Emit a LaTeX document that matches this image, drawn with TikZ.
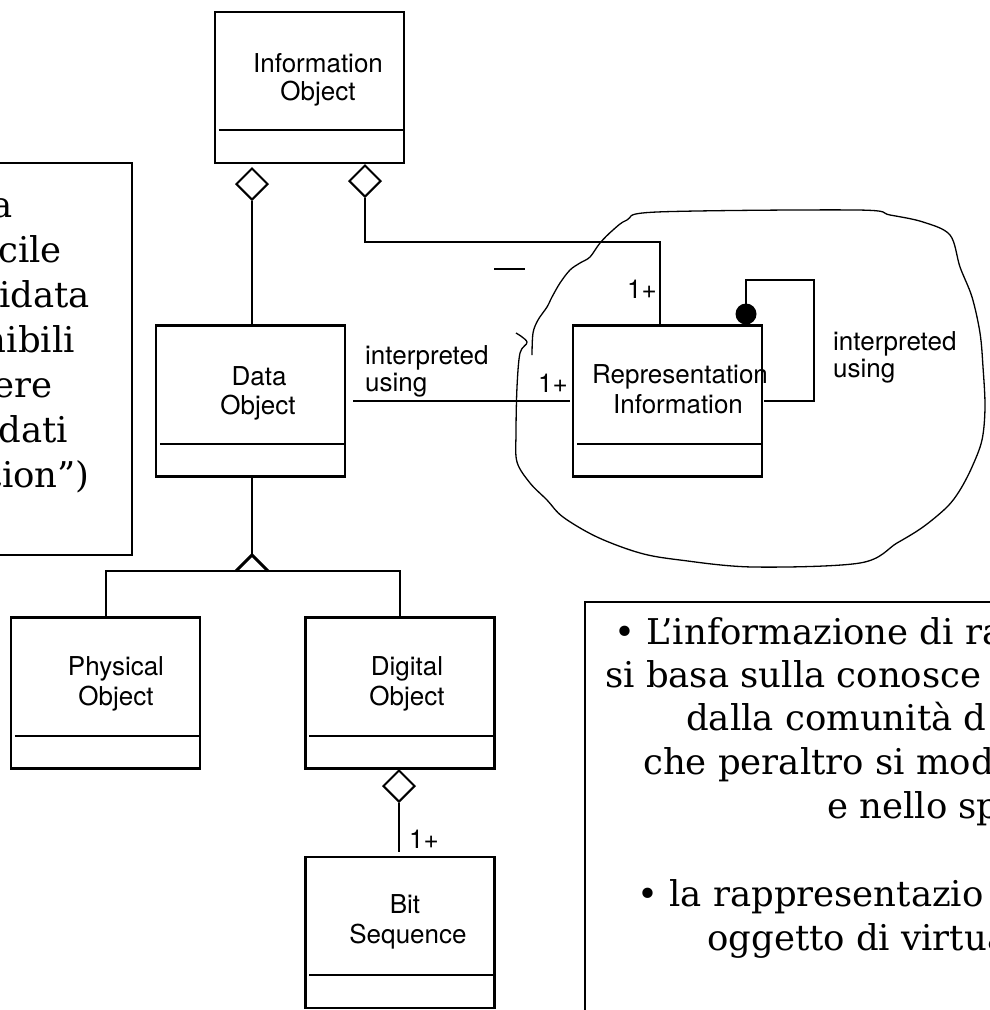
\documentclass[tikz,border=0pt]{standalone}
\usepackage{fontspec}
\newfontfamily\umlfont{TeX Gyre Heros}
\newfontfamily\bkfont{DejaVu Serif}
\usetikzlibrary{shapes.geometric}
\begin{document}
\begin{tikzpicture}[x=1pt,y=-1pt,
  umlbox/.style={draw, line width=2.2pt, minimum width=189pt, minimum height=151pt, inner sep=0pt},
  lbl/.style={font=\umlfont\fontsize{26}{29}\selectfont, anchor=base, inner sep=0pt},
  lblw/.style={lbl, anchor=base west},
  agg/.style={draw, diamond, line width=2pt, minimum width=32pt, minimum height=32pt, inner sep=0pt, fill=white},
  conn/.style={line width=2pt},
  sep/.style={line width=2pt},
  serif/.style={font=\bkfont\fontsize{35.5}{44}\selectfont, inner sep=0pt},
  serife/.style={serif, anchor=base east},
  serifw/.style={serif, anchor=base west},
]
\useasboundingbox (0,0) rectangle (990,1010);
\fill[white] (0,0) rectangle (990,1010);

% hand-drawn cloud
\draw[line width=1.3pt, line join=round] plot[smooth, tension=0.55] coordinates {
 (516,333) (527,342) (520,353) (517,387) (516,433) (517,462) (530,483) (547,500)
 (563,517) (597,537) (640,553) (680,560) (753,567) (860,563) (897,543) (923,527)
 (947,507) (960,490) (972,467) (982,440) (985,407) (983,367) (980,333) (972,297)
 (960,267) (950,235) (923,222) (890,215) (857,210) (657,212) (627,220) (613,230)
 (600,243) (590,257) (580,263) (570,270) (560,283) (552,297) (547,307) (538,320)
 (533,333) (532,355)};

% text boxes
\draw[line width=1.5pt] (-5,163) rectangle (132,555);
\draw[line width=1.5pt] (585,602) rectangle (1000,1020);

% class boxes
\node[umlbox] (info) at (309.5,87.5) {};
\node[umlbox] (data) at (250.5,401) {};
\node[umlbox] (rep)  at (667.5,401) {};
\node[umlbox] (phys) at (105.5,693) {};
\node[umlbox] (dig)  at (400,693) {};
\node[umlbox] (bit)  at (400,932.5) {};
\foreach \b in {info,data,rep,phys,dig,bit}{
  \draw[sep] ([xshift=5pt,yshift=34pt]\b.south west) -- ([yshift=34pt]\b.south east);
}

% class names
\node[lbl] (infoA) at (318,72) {Information};
\node[lbl] (infoB) at (318,100) {Object};
\node[lbl] (dataA) at (259,385) {Data};
\node[lbl] (dataB) at (258,414) {Object};
\node[lbl] (repA) at (680,383) {Representation};
\node[lbl] (repB) at (678,413) {Information};
\node[lbl] (physA) at (116,675) {Physical};
\node[lbl] (physB) at (116,705) {Object};
\node[lbl] (digA) at (407,675) {Digital};
\node[lbl] (digB) at (407,705) {Object};
\node[lbl] (bitA) at (405,913) {Bit};
\node[lbl] (bitB) at (408,943) {Sequence};

% aggregation Information -> Data
\node[agg] (d1) at (252,184) {};
\draw[conn] (d1.south) -- (d1.south |- data.north);
% aggregation Information -> Representation
\node[agg] (d2) at (365,181) {};
\coordinate (c1) at (660,242);
\draw[conn] (d2.south) -- (d2.south |- c1) -- (c1) -- (c1 |- rep.north);
\node[lblw] (m1) at (627,298) {1+};
\draw[line width=2pt] (494,269) -- (525,269);

% Data -> Representation
\draw[conn] ([xshift=7pt]data.east) -- ([xshift=-2pt]rep.west);
\node[lblw] (l1a) at (365,364) {interpreted};
\node[lblw] (l1b) at (365,391) {using};
\node[lblw] (m2) at (538,392) {1+};

% self loop
\node[circle, fill, inner sep=0pt, minimum size=21pt] (dot) at (746,314) {};
\coordinate (c2) at (814,280);
\draw[conn] (dot.center) |- (c2) |- ([xshift=1pt]rep.east);
\node[lblw] (l2a) at (833,350) {interpreted};
\node[lblw] (l2b) at (833,377) {using};

% generalization
\coordinate (tri) at (252,555);
\coordinate (bar) at (252,571);
\draw[conn] (tri |- data.south) -- (tri);
\draw[conn] (phys.north) -- (phys.north |- bar) -- (dig.north |- bar) -- (dig.north);
\draw[line width=3pt, line join=miter] (236,571) -- (tri) -- (268,571);

% Digital -> Bit
\node[agg] (d3) at (399,786) {};
\draw[conn] (d3.south) -- ([yshift=4pt]d3.south |- bit.north);
\node[lblw] (m3) at (409,848) {1+};

% left text (cut by image edge)
\node[serife] (t1) at (13,217) {a};
\node[serife] (t2) at (62,262) {cile};
\node[serife] (t3) at (90,307) {idata};
\node[serife] (t4) at (75,352) {nibili};
\node[serife] (t5) at (53,397) {ere};
\node[serife] (t6) at (68,442) {dati};
\node[serife] (t7) at (90,487) {tion”)};

% right text (cut by image edge)
\node[serifw] (r1) at (614,644) {• L’informazione di ra};
\node[serifw] (r2) at (605,687) {si basa sulla conosce};
\node[serifw] (r3) at (686,730) {dalla comunità d};
\node[serifw] (r4) at (643,774) {che peraltro si mod};
\node[serifw] (r5) at (827,818) {e nello sp};
\node[serifw] (r6) at (637,906) {• la rappresentazio};
\node[serifw] (r7) at (707,950) {oggetto di virtua};
\end{tikzpicture}
\end{document}
